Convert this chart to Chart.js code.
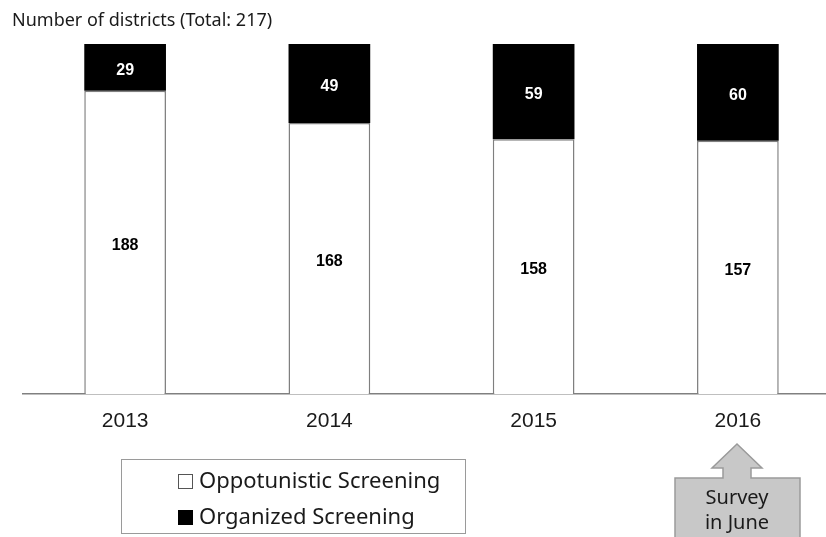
<!DOCTYPE html>
<html>
<head>
<meta charset="utf-8">
<script src="https://cdn.jsdelivr.net/npm/chart.js@4.4.0/dist/chart.umd.min.js"></script>
<style>
  html, body { margin: 0; padding: 0; background: #fff; }
  #wrap { position: relative; width: 826px; height: 537px; overflow: hidden; }
  #myChart { position: absolute; left: 0; top: 0; }
  #legend {
    position: absolute; left: 121px; top: 459px; width: 343px; height: 73px;
    border: 1px solid #9a9a9a; font-family: "Noto Sans", sans-serif; font-size: 22px; color: #1a1a1a;
  }
  #legend div { position: absolute; left: 56px; height: 30px; line-height: 30px; white-space: nowrap; }
  #legend span.box { display: inline-block; width: 15px; height: 15px; margin-right: 6px; vertical-align: -1px; box-sizing: border-box; }
  #note { position: absolute; left: 670px; top: 440px; }
</style>
</head>
<body>
<div id="wrap">
  <canvas id="myChart" width="840" height="537"></canvas>
  <div id="legend"></div>
  <svg id="note" width="140" height="100">
    <path d="M67 4 L92 28 L81 28 L81 38 L130 38 L130 100 L5 100 L5 38 L53 38 L53 28 L42 28 Z"
          fill="#c8c8c8" stroke="#9a9a9a" stroke-width="1.5"/>
    <text x="67" y="64" text-anchor="middle" font-family="Noto Sans, sans-serif" font-size="20" fill="#1a1a1a">Survey</text>
    <text x="67" y="89" text-anchor="middle" font-family="Noto Sans, sans-serif" font-size="20" fill="#1a1a1a">in June</text>
  </svg>
</div>
<script>
// Data
const years = ['2013', '2014', '2015', '2016'];
const opportunistic = [188, 168, 158, 157];
const organized = [29, 49, 59, 60];
const totalDistricts = 217;

// write the numbers in the middle of each bar piece
const segmentLabels = {
  id: 'segmentLabels',
  afterDatasetsDraw(chart) {
    const ctx = chart.ctx;
    ctx.save();
    ctx.font = 'bold 16px "Liberation Sans", Arial, sans-serif';
    ctx.textAlign = 'center';
    ctx.textBaseline = 'middle';
    chart.data.datasets.forEach((ds, i) => {
      chart.getDatasetMeta(i).data.forEach((bar, j) => {
        const mid = (bar.y + bar.base) / 2 + 3;
        ctx.fillStyle = ds.labelColor;
        ctx.fillText(ds.data[j], bar.x, mid);
      });
    });
    ctx.restore();
  }
};

var ctx = document.getElementById('myChart').getContext('2d');

const chartConfig = {
  type: 'bar',
  data: {
    labels: years,
    datasets: [{
      label: 'Oppotunistic Screening',
      data: opportunistic,
      backgroundColor: '#ffffff',
      borderColor: '#7f7f7f',
      borderWidth: 1.5,
      borderSkipped: 'bottom',
      labelColor: '#000000'
    }, {
      label: 'Organized Screening',
      data: organized,
      backgroundColor: '#000000',
      borderColor: '#000000',
      borderWidth: 0,
      labelColor: '#ffffff'
    }]
  },
  options: {
    responsive: false,
    animation: false,
    layout: { padding: { left: 12, right: 0, top: 0, bottom: 0 } },
    datasets: {
      bar: { categoryPercentage: 1, barPercentage: 0.4 }
    },
    scales: {
      x: {
        stacked: true,
        grid: { display: false },
        border: { display: true, color: '#808080', width: 1.5 },
        ticks: {
          color: '#1a1a1a',
          padding: 7,
          font: { family: '"Liberation Sans", Arial, sans-serif', size: 21 }
        },
        afterFit: s => { s.height = 143; }
      },
      y: {
        stacked: true,
        min: 0,
        max: totalDistricts,
        grid: { display: false },
        border: { display: false },
        ticks: { display: false },
        afterFit: s => { s.width = 11; }
      }
    },
    plugins: {
      legend: { display: false },
      tooltip: { enabled: false },
      title: {
        display: true,
        text: 'Number of districts (Total: 217)',
        align: 'start',
        color: '#1a1a1a',
        font: { family: '"Noto Sans", sans-serif', size: 18, weight: 'normal' },
        padding: { top: 10, bottom: 12.4 }
      }
    }
  },
  plugins: [segmentLabels]
};

const chart = new Chart(ctx, chartConfig);

// legend in its own box, built from the datasets
const legendEl = document.getElementById('legend');
chart.data.datasets.forEach((ds, i) => {
  const row = document.createElement('div');
  row.style.top = (i === 0 ? 4 : 40) + 'px';
  const box = document.createElement('span');
  box.className = 'box';
  box.style.background = ds.backgroundColor;
  box.style.border = '1px solid ' + (i === 0 ? '#555' : '#000');
  row.appendChild(box);
  row.appendChild(document.createTextNode(ds.label));
  legendEl.appendChild(row);
});
</script>
</body>
</html>
